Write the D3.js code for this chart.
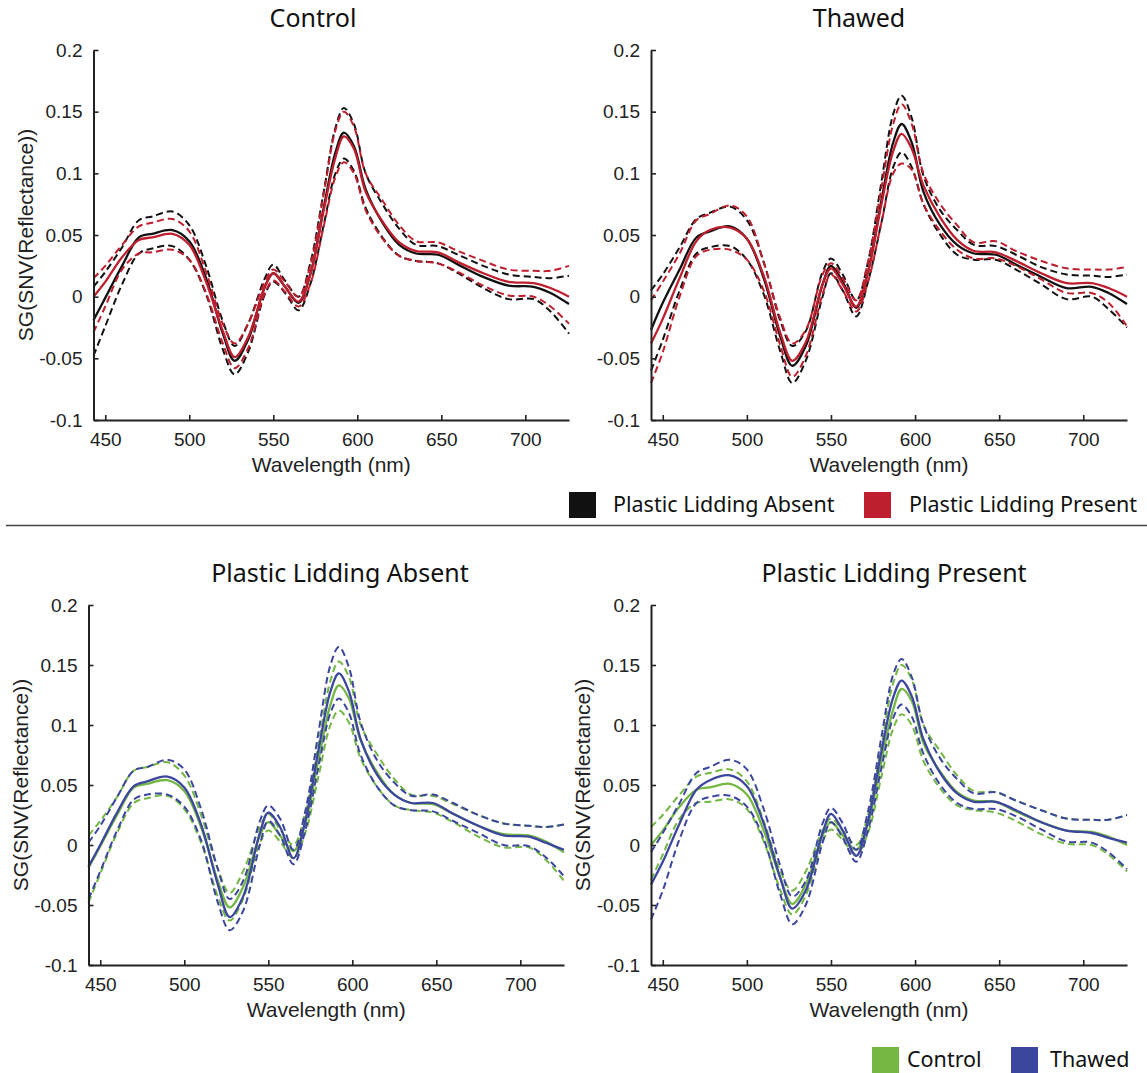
<!DOCTYPE html>
<html>
<head>
<meta charset="utf-8">
<script src="https://cdn.jsdelivr.net/npm/d3@7"></script>
<style>
  body { margin: 0; background: #fff; }
  svg { display: block; }
</style>
</head>
<body>
<div id="chart"></div>
<script>
// wavelengths (nm) shared by every curve
var wl = [443,450,460,470,478,490,500,510,520,527,535,545,550,557,565,572,580,587,592,598,605,615,625,635,648,660,675,690,705,715,726];

// Control, lidding absent
var ctrlAbsMean = [-0.019,-0.001,0.025,0.048,0.051,0.054,0.045,0.015,-0.030,-0.052,-0.035,0.008,0.019,0.008,-0.005,0.018,0.072,0.117,0.133,0.122,0.087,0.060,0.042,0.035,0.034,0.026,0.016,0.009,0.008,0.003,-0.006];
var ctrlAbsUp   = [0.008,0.020,0.040,0.062,0.065,0.069,0.058,0.025,-0.020,-0.040,-0.022,0.015,0.026,0.013,0.000,0.027,0.085,0.137,0.153,0.140,0.100,0.075,0.055,0.042,0.041,0.034,0.025,0.018,0.016,0.015,0.017];
var ctrlAbsLo   = [-0.048,-0.024,0.010,0.035,0.039,0.041,0.030,0.002,-0.043,-0.063,-0.045,0.002,0.012,0.003,-0.011,0.010,0.058,0.100,0.112,0.102,0.072,0.048,0.033,0.029,0.027,0.019,0.007,-0.002,-0.002,-0.012,-0.030];
// Control, lidding present
var ctrlPresMean = [0.000,0.012,0.032,0.046,0.048,0.051,0.042,0.012,-0.028,-0.049,-0.033,0.008,0.019,0.008,-0.004,0.018,0.070,0.113,0.130,0.120,0.085,0.061,0.044,0.037,0.036,0.028,0.019,0.012,0.011,0.007,0.000];
var ctrlPresUp   = [0.015,0.025,0.042,0.057,0.060,0.063,0.053,0.020,-0.022,-0.038,-0.022,0.012,0.022,0.012,0.000,0.025,0.083,0.135,0.150,0.138,0.100,0.078,0.058,0.045,0.044,0.037,0.029,0.022,0.021,0.021,0.025];
var ctrlPresLo   = [-0.029,-0.008,0.022,0.035,0.036,0.038,0.030,0.003,-0.038,-0.058,-0.042,0.003,0.013,0.004,-0.008,0.010,0.057,0.097,0.109,0.100,0.070,0.047,0.033,0.029,0.027,0.020,0.009,0.001,0.000,-0.008,-0.022];
// Thawed, lidding absent
var thawAbsMean = [-0.027,-0.005,0.022,0.048,0.053,0.057,0.047,0.015,-0.033,-0.056,-0.040,0.010,0.025,0.012,-0.009,0.020,0.078,0.125,0.140,0.125,0.085,0.058,0.042,0.035,0.034,0.026,0.016,0.007,0.008,0.003,-0.006];
var thawAbsUp   = [0.005,0.018,0.040,0.063,0.068,0.073,0.062,0.028,-0.020,-0.040,-0.028,0.020,0.031,0.018,-0.003,0.028,0.093,0.148,0.163,0.145,0.098,0.070,0.054,0.042,0.041,0.034,0.024,0.018,0.017,0.016,0.018];
var thawAbsLo   = [-0.060,-0.035,0.005,0.035,0.040,0.041,0.030,0.002,-0.045,-0.070,-0.052,0.000,0.019,0.005,-0.016,0.012,0.060,0.105,0.117,0.105,0.075,0.050,0.034,0.030,0.030,0.022,0.010,-0.002,0.000,-0.010,-0.025];
// Thawed, lidding present
var thawPresMean = [-0.038,-0.018,0.015,0.045,0.054,0.056,0.047,0.017,-0.030,-0.052,-0.037,0.010,0.023,0.010,-0.008,0.020,0.075,0.118,0.132,0.120,0.090,0.064,0.046,0.037,0.036,0.029,0.019,0.011,0.011,0.007,0.000];
var thawPresUp   = [-0.003,0.012,0.035,0.062,0.067,0.074,0.065,0.028,-0.018,-0.038,-0.027,0.018,0.027,0.015,-0.003,0.028,0.088,0.140,0.156,0.140,0.100,0.075,0.058,0.044,0.045,0.037,0.029,0.023,0.022,0.022,0.024];
var thawPresLo   = [-0.070,-0.045,0.000,0.033,0.038,0.038,0.030,0.005,-0.040,-0.065,-0.048,0.002,0.018,0.005,-0.012,0.012,0.060,0.100,0.108,0.103,0.075,0.053,0.038,0.031,0.031,0.025,0.014,0.003,0.003,-0.005,-0.024];
// Thawed curves as drawn in the lower panels
var thawAbsMean2 = [-0.018,0.000,0.027,0.049,0.053,0.057,0.048,0.017,-0.033,-0.060,-0.043,0.010,0.027,0.015,-0.011,0.020,0.080,0.128,0.143,0.128,0.088,0.058,0.042,0.035,0.035,0.026,0.016,0.008,0.007,0.002,-0.004];
var thawAbsUp2   = [0.002,0.016,0.040,0.062,0.065,0.071,0.063,0.030,-0.020,-0.045,-0.030,0.020,0.033,0.022,-0.004,0.028,0.095,0.150,0.165,0.148,0.102,0.070,0.052,0.041,0.042,0.035,0.025,0.018,0.016,0.015,0.017];
var thawAbsLo2   = [-0.045,-0.022,0.012,0.038,0.042,0.042,0.032,0.004,-0.048,-0.071,-0.055,0.000,0.020,0.008,-0.016,0.012,0.066,0.110,0.122,0.110,0.075,0.048,0.033,0.029,0.028,0.020,0.010,0.000,-0.001,-0.010,-0.026];
var thawPresMean2 = [-0.033,-0.014,0.018,0.046,0.054,0.058,0.049,0.018,-0.028,-0.053,-0.038,0.010,0.026,0.012,-0.009,0.020,0.078,0.123,0.137,0.124,0.088,0.060,0.043,0.036,0.036,0.029,0.019,0.012,0.010,0.006,0.002];
var thawPresUp2   = [-0.006,0.010,0.035,0.060,0.065,0.071,0.063,0.030,-0.018,-0.043,-0.030,0.018,0.031,0.018,-0.004,0.028,0.090,0.142,0.155,0.140,0.100,0.072,0.055,0.043,0.044,0.037,0.029,0.022,0.021,0.021,0.025];
var thawPresLo2   = [-0.062,-0.038,0.005,0.035,0.040,0.041,0.032,0.005,-0.042,-0.066,-0.050,0.002,0.019,0.006,-0.014,0.012,0.064,0.106,0.117,0.107,0.076,0.050,0.035,0.030,0.030,0.024,0.013,0.003,0.002,-0.006,-0.020];

var xTicks = [450, 500, 550, 600, 650, 700];
var yTicks = [-0.1, -0.05, 0, 0.05, 0.1, 0.15, 0.2];

var black = "#111111", red = "#be1e2d", green = "#74b843", blue = "#3c469e";

var W = 1147, H = 1073;
var svg = d3.select("#chart").append("svg")
    .attr("width", W)
    .attr("height", H);

var tickFont = "'Liberation Sans', Arial, sans-serif";
var titleFont = "'Noto Sans', 'Open Sans', sans-serif";

function drawPanel(p) {
    var x = d3.scaleLinear().domain([443, 726]).range([p.left, p.right]);
    var y = d3.scaleLinear().domain([-0.1, 0.2]).range([p.bottom, p.top]);
    var g = svg.append("g");

    var line = d3.line()
        .x(function(d) { return x(d[0]); })
        .y(function(d) { return y(d[1]); })
        .curve(d3.curveCatmullRom.alpha(0.5));

    p.series.forEach(function(s) {
        g.append("path")
            .datum(wl.map(function(w, i) { return [w, s.values[i]]; }))
            .attr("fill", "none")
            .attr("stroke", s.color)
            .attr("stroke-width", s.dash ? 2 : 2.3)
            .attr("stroke-dasharray", s.dash ? "7,4" : null)
            .attr("d", line);
    });

    var xAxis = g.append("g")
        .attr("transform", "translate(0," + p.bottom + ")")
        .call(d3.axisBottom(x).tickValues(xTicks).tickSizeInner(-5).tickSizeOuter(0).tickPadding(13));
    var yAxis = g.append("g")
        .attr("transform", "translate(" + p.left + ",0)")
        .call(d3.axisLeft(y).tickValues(yTicks).tickSizeInner(-5).tickSizeOuter(0).tickPadding(11)
            .tickFormat(function(d) { return String(+d.toFixed(2)); }));

    [xAxis, yAxis].forEach(function(a) {
        a.select(".domain").attr("stroke", "#222").attr("stroke-width", 2);
        a.selectAll(".tick line").attr("stroke", "#222").attr("stroke-width", 1.6);
        a.selectAll(".tick text")
            .attr("font-family", tickFont)
            .attr("font-size", 19)
            .attr("fill", "#222");
    });

    g.append("text")
        .attr("x", (p.left + p.right) / 2)
        .attr("y", p.bottom + 52)
        .attr("text-anchor", "middle")
        .attr("font-family", tickFont)
        .attr("font-size", 21)
        .attr("fill", "#222")
        .text("Wavelength (nm)");

    if (p.ylabel) {
        g.append("text")
            .attr("transform", "translate(" + p.ylabelX + "," + ((p.top + p.bottom) / 2) + ") rotate(-90)")
            .attr("text-anchor", "middle")
            .attr("font-family", tickFont)
            .attr("font-size", 21)
            .attr("fill", "#222")
            .text("SG(SNV(Reflectance))");
    }

    g.append("text")
        .attr("x", p.titleX)
        .attr("y", p.top - 23)
        .attr("text-anchor", "middle")
        .attr("font-family", titleFont)
        .attr("font-size", 25)
        .attr("fill", "#111")
        .text(p.title);
}

function band(mean, up, lo, color) {
    return [
        {values: up, color: color, dash: true},
        {values: lo, color: color, dash: true},
        {values: mean, color: color, dash: false}
    ];
}

drawPanel({
    title: "Control", titleX: 313,
    left: 93.5, right: 569, top: 50, bottom: 420,
    ylabel: true, ylabelX: 33,
    series: band(ctrlAbsMean, ctrlAbsUp, ctrlAbsLo, black)
        .concat(band(ctrlPresMean, ctrlPresUp, ctrlPresLo, red))
});
drawPanel({
    title: "Thawed", titleX: 859,
    left: 651, right: 1127, top: 50, bottom: 420,
    ylabel: false,
    series: band(thawAbsMean, thawAbsUp, thawAbsLo, black)
        .concat(band(thawPresMean, thawPresUp, thawPresLo, red))
});
drawPanel({
    title: "Plastic Lidding Absent", titleX: 340,
    left: 88.5, right: 564, top: 605, bottom: 965,
    ylabel: true, ylabelX: 28,
    series: band(ctrlAbsMean, ctrlAbsUp, ctrlAbsLo, green)
        .concat(band(thawAbsMean2, thawAbsUp2, thawAbsLo2, blue))
});
drawPanel({
    title: "Plastic Lidding Present", titleX: 894,
    left: 651, right: 1127, top: 605, bottom: 965,
    ylabel: true, ylabelX: 590,
    series: band(ctrlPresMean, ctrlPresUp, ctrlPresLo, green)
        .concat(band(thawPresMean2, thawPresUp2, thawPresLo2, blue))
});

// divider between the two rows
svg.append("line")
    .attr("x1", 6).attr("x2", W)
    .attr("y1", 525.5).attr("y2", 525.5)
    .attr("stroke", "#444")
    .attr("stroke-width", 1.5);

// legends
function legend(items, top, size) {
    items.forEach(function(it) {
        svg.append("rect")
            .attr("x", it.x).attr("y", top)
            .attr("width", 27).attr("height", 26)
            .attr("fill", it.color);
        svg.append("text")
            .attr("x", it.tx).attr("y", top + 20)
            .attr("font-family", titleFont)
            .attr("font-size", size)
            .attr("fill", "#111")
            .text(it.label);
    });
}
legend([
    {label: "Plastic Lidding Absent", color: black, x: 569, tx: 613},
    {label: "Plastic Lidding Present", color: red, x: 864, tx: 909}
], 492, 21.5);
legend([
    {label: "Control", color: green, x: 872, tx: 907},
    {label: "Thawed", color: blue, x: 1011, tx: 1050}
], 1047, 21.5);
</script>
</body>
</html>
